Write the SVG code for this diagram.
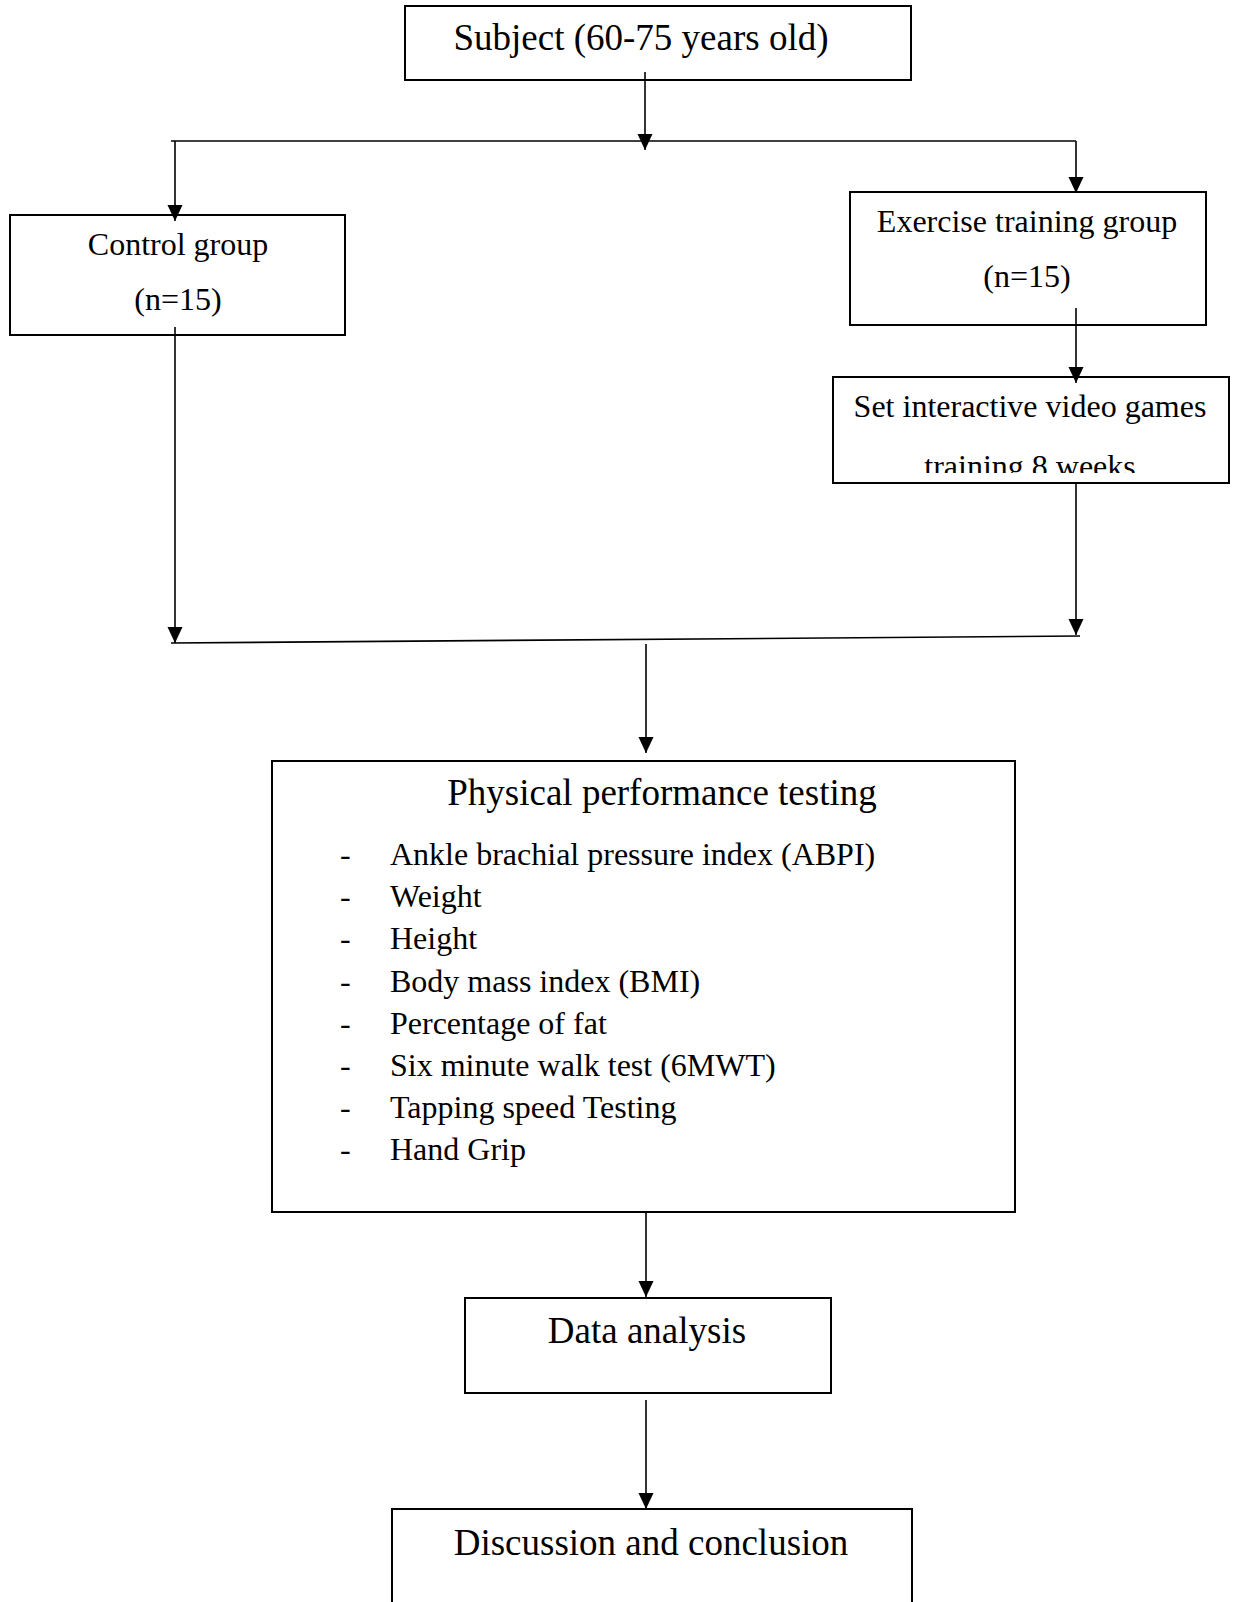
<svg xmlns="http://www.w3.org/2000/svg" width="1234" height="1602" viewBox="0 0 1234 1602">
<style>
.box{fill:#fff;stroke:#000;stroke-width:2}
.t{font-family:"Liberation Serif","Times New Roman",serif;fill:#000}
.big{font-size:37px}
.sm{font-size:32px}
.c{text-anchor:middle}
.ln{fill:none;stroke:#000;stroke-width:1.6}
</style>
<defs>
<marker id="ah" markerUnits="userSpaceOnUse" markerWidth="15" markerHeight="16" refX="16" refY="7.5" orient="auto">
<path d="M0,0 L16,7.5 L0,15 z" fill="#000"/>
</marker>
<clipPath id="setclip"><rect x="832" y="377" width="398" height="96"/></clipPath>
</defs>
<rect width="1234" height="1602" fill="#fff"/>
<g id="subject">
<rect class="box" x="405" y="6" width="506" height="74"/>
<text class="t big c" x="641" y="50">Subject (60-75 years old)</text>
</g>
<g id="control">
<rect class="box" x="10" y="215" width="335" height="120"/>
<text class="t sm c" x="178" y="255">Control group</text>
<text class="t sm c" x="178" y="310">(n=15)</text>
</g>
<g id="exercise">
<rect class="box" x="850" y="192" width="356" height="133"/>
<text class="t sm c" x="1027" y="232">Exercise training group</text>
<text class="t sm c" x="1027" y="287">(n=15)</text>
</g>
<g id="set">
<rect class="box" x="833" y="377" width="396" height="106"/>
<g clip-path="url(#setclip)">
<text class="t sm c" x="1030" y="417">Set interactive video games</text>
<text class="t sm c" x="1030" y="477">training 8 weeks</text>
</g>
</g>
<g id="physical">
<rect class="box" x="272" y="761" width="743" height="451"/>
<text class="t big c" x="662" y="805">Physical performance testing</text>
<g class="t sm">
<text x="340" y="865">-</text><text x="390" y="865">Ankle brachial pressure index (ABPI)</text>
<text x="340" y="907">-</text><text x="390" y="907">Weight</text>
<text x="340" y="949">-</text><text x="390" y="949">Height</text>
<text x="340" y="992">-</text><text x="390" y="992">Body mass index (BMI)</text>
<text x="340" y="1034">-</text><text x="390" y="1034">Percentage of fat</text>
<text x="340" y="1076">-</text><text x="390" y="1076">Six minute walk test (6MWT)</text>
<text x="340" y="1118">-</text><text x="390" y="1118">Tapping speed Testing</text>
<text x="340" y="1160">-</text><text x="390" y="1160">Hand Grip</text>
</g>
</g>
<g id="data">
<rect class="box" x="465" y="1298" width="366" height="95"/>
<text class="t big c" x="647" y="1343">Data analysis</text>
</g>
<g id="discussion">
<rect class="box" x="392" y="1509" width="520" height="120"/>
<text class="t big c" x="651" y="1555">Discussion and conclusion</text>
</g>
<g id="connectors">
<path class="ln" d="M645,72 L645,150" marker-end="url(#ah)"/>
<path class="ln" d="M171,141 L1076,141"/>
<path class="ln" d="M175,141 L175,221" marker-end="url(#ah)"/>
<path class="ln" d="M1076,141 L1076,193" marker-end="url(#ah)"/>
<path class="ln" d="M1076,308 L1076,383" marker-end="url(#ah)"/>
<path class="ln" d="M175,327 L175,643" marker-end="url(#ah)"/>
<path class="ln" d="M1076,483 L1076,635" marker-end="url(#ah)"/>
<path class="ln" d="M171,643 L1080,636" stroke-width="2.2"/>
<path class="ln" d="M646,644 L646,753" marker-end="url(#ah)"/>
<path class="ln" d="M646,1212 L646,1297" marker-end="url(#ah)"/>
<path class="ln" d="M646,1400 L646,1509" marker-end="url(#ah)"/>
</g>
</svg>
